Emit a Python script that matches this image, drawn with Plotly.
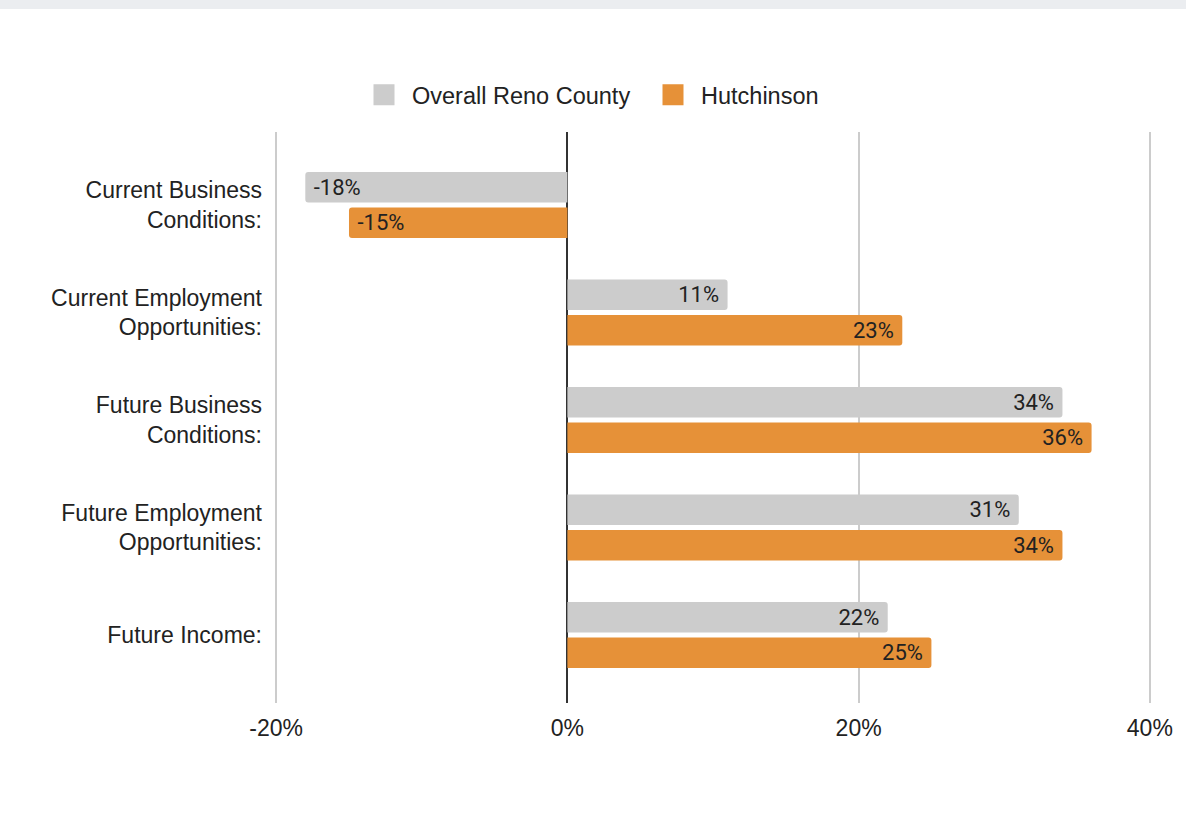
import plotly.graph_objects as go

# Survey categories and index values (percent)
categories = [
    "Current Business<br>Conditions:",
    "Current Employment<br>Opportunities:",
    "Future Business<br>Conditions:",
    "Future Employment<br>Opportunities:",
    "Future Income:",
]
reno_county = [-18, 11, 34, 31, 22]
hutchinson = [-15, 23, 36, 34, 25]
series_names = ["Overall Reno County", "Hutchinson"]
series_colors = ["#cccccc", "#e69138"]
x_ticks = [-20, 0, 20, 40]
x_tick_labels = ["-20%", "0%", "20%", "40%"]

W, H = 1186, 813
ML, MR, MT, MB = 274, 34, 132, 110
FONT = "Arial"
TXT = "#222222"
NBSP = "\u00a0"


def bar_label(v):
    # keep a little breathing room between the label and the bar end
    return f"{NBSP}{v}%" if v < 0 else f"{v}%{NBSP}"


fig = go.Figure()

for name, vals, color in zip(series_names, [reno_county, hutchinson], series_colors):
    fig.add_trace(go.Bar(
        y=categories,
        x=vals,
        orientation="h",
        name=name,
        marker=dict(color=color, line=dict(width=0)),
        text=[bar_label(v) for v in vals],
        textposition="inside",
        insidetextanchor="end",
        textangle=0,
        constraintext="none",
        textfont=dict(family="Roboto", size=22, color=TXT),
        showlegend=False,
        hoverinfo="skip",
    ))
    # legend proxy with a larger square swatch
    fig.add_trace(go.Scatter(
        x=[None], y=[None],
        mode="markers",
        name=name,
        marker=dict(symbol="square", size=16, color=color,
                    line=dict(color=color, width=5)),
        showlegend=True,
    ))

plot_w = W - ML - MR
plot_h = H - MT - MB
fig.update_layout(
    width=W,
    height=H,
    margin=dict(l=ML, r=MR, t=MT, b=MB, pad=0),
    paper_bgcolor="white",
    plot_bgcolor="white",
    barmode="group",
    bargap=0.34,
    bargroupgap=0.14,
    barcornerradius=3,
    uniformtext=dict(minsize=22, mode="show"),
    font=dict(family=FONT, size=23, color=TXT),
    legend=dict(
        orientation="h",
        x=(356 - ML) / plot_w,
        xanchor="left",
        y=1 + (MT - 95) / plot_h,
        yanchor="middle",
        font=dict(family=FONT, size=23.5, color=TXT),
        itemwidth=46,
        entrywidth=228,
        entrywidthmode="pixels",
        bgcolor="rgba(0,0,0,0)",
    ),
    xaxis=dict(
        range=[-20.15, 40.15],
        tickvals=x_ticks,
        ticktext=x_tick_labels,
        showgrid=True,
        gridcolor="#cccccc",
        gridwidth=1.5,
        zeroline=True,
        zerolinecolor="#333333",
        zerolinewidth=1.5,
        showline=False,
        ticks="",
        ticklabelstandoff=9,
        tickfont=dict(family=FONT, size=23, color=TXT),
        fixedrange=True,
    ),
    yaxis=dict(
        type="category",
        categoryorder="array",
        categoryarray=categories,
        range=[4.633, -0.679],
        showgrid=False,
        zeroline=False,
        showline=False,
        ticks="",
        ticklabelstandoff=11,
        tickfont=dict(family=FONT, size=23, color=TXT),
        fixedrange=True,
    ),
    shapes=[
        # thin grey band across the top of the page
        dict(
            type="rect",
            xref="paper", yref="paper",
            x0=-ML / plot_w, x1=1 + MR / plot_w,
            y0=1 + (MT - 9) / plot_h, y1=1 + MT / plot_h,
            fillcolor="#ebedf0",
            line=dict(width=0),
            layer="below",
        )
    ],
)

fig.write_html("out.html", config={"displayModeBar": False})
